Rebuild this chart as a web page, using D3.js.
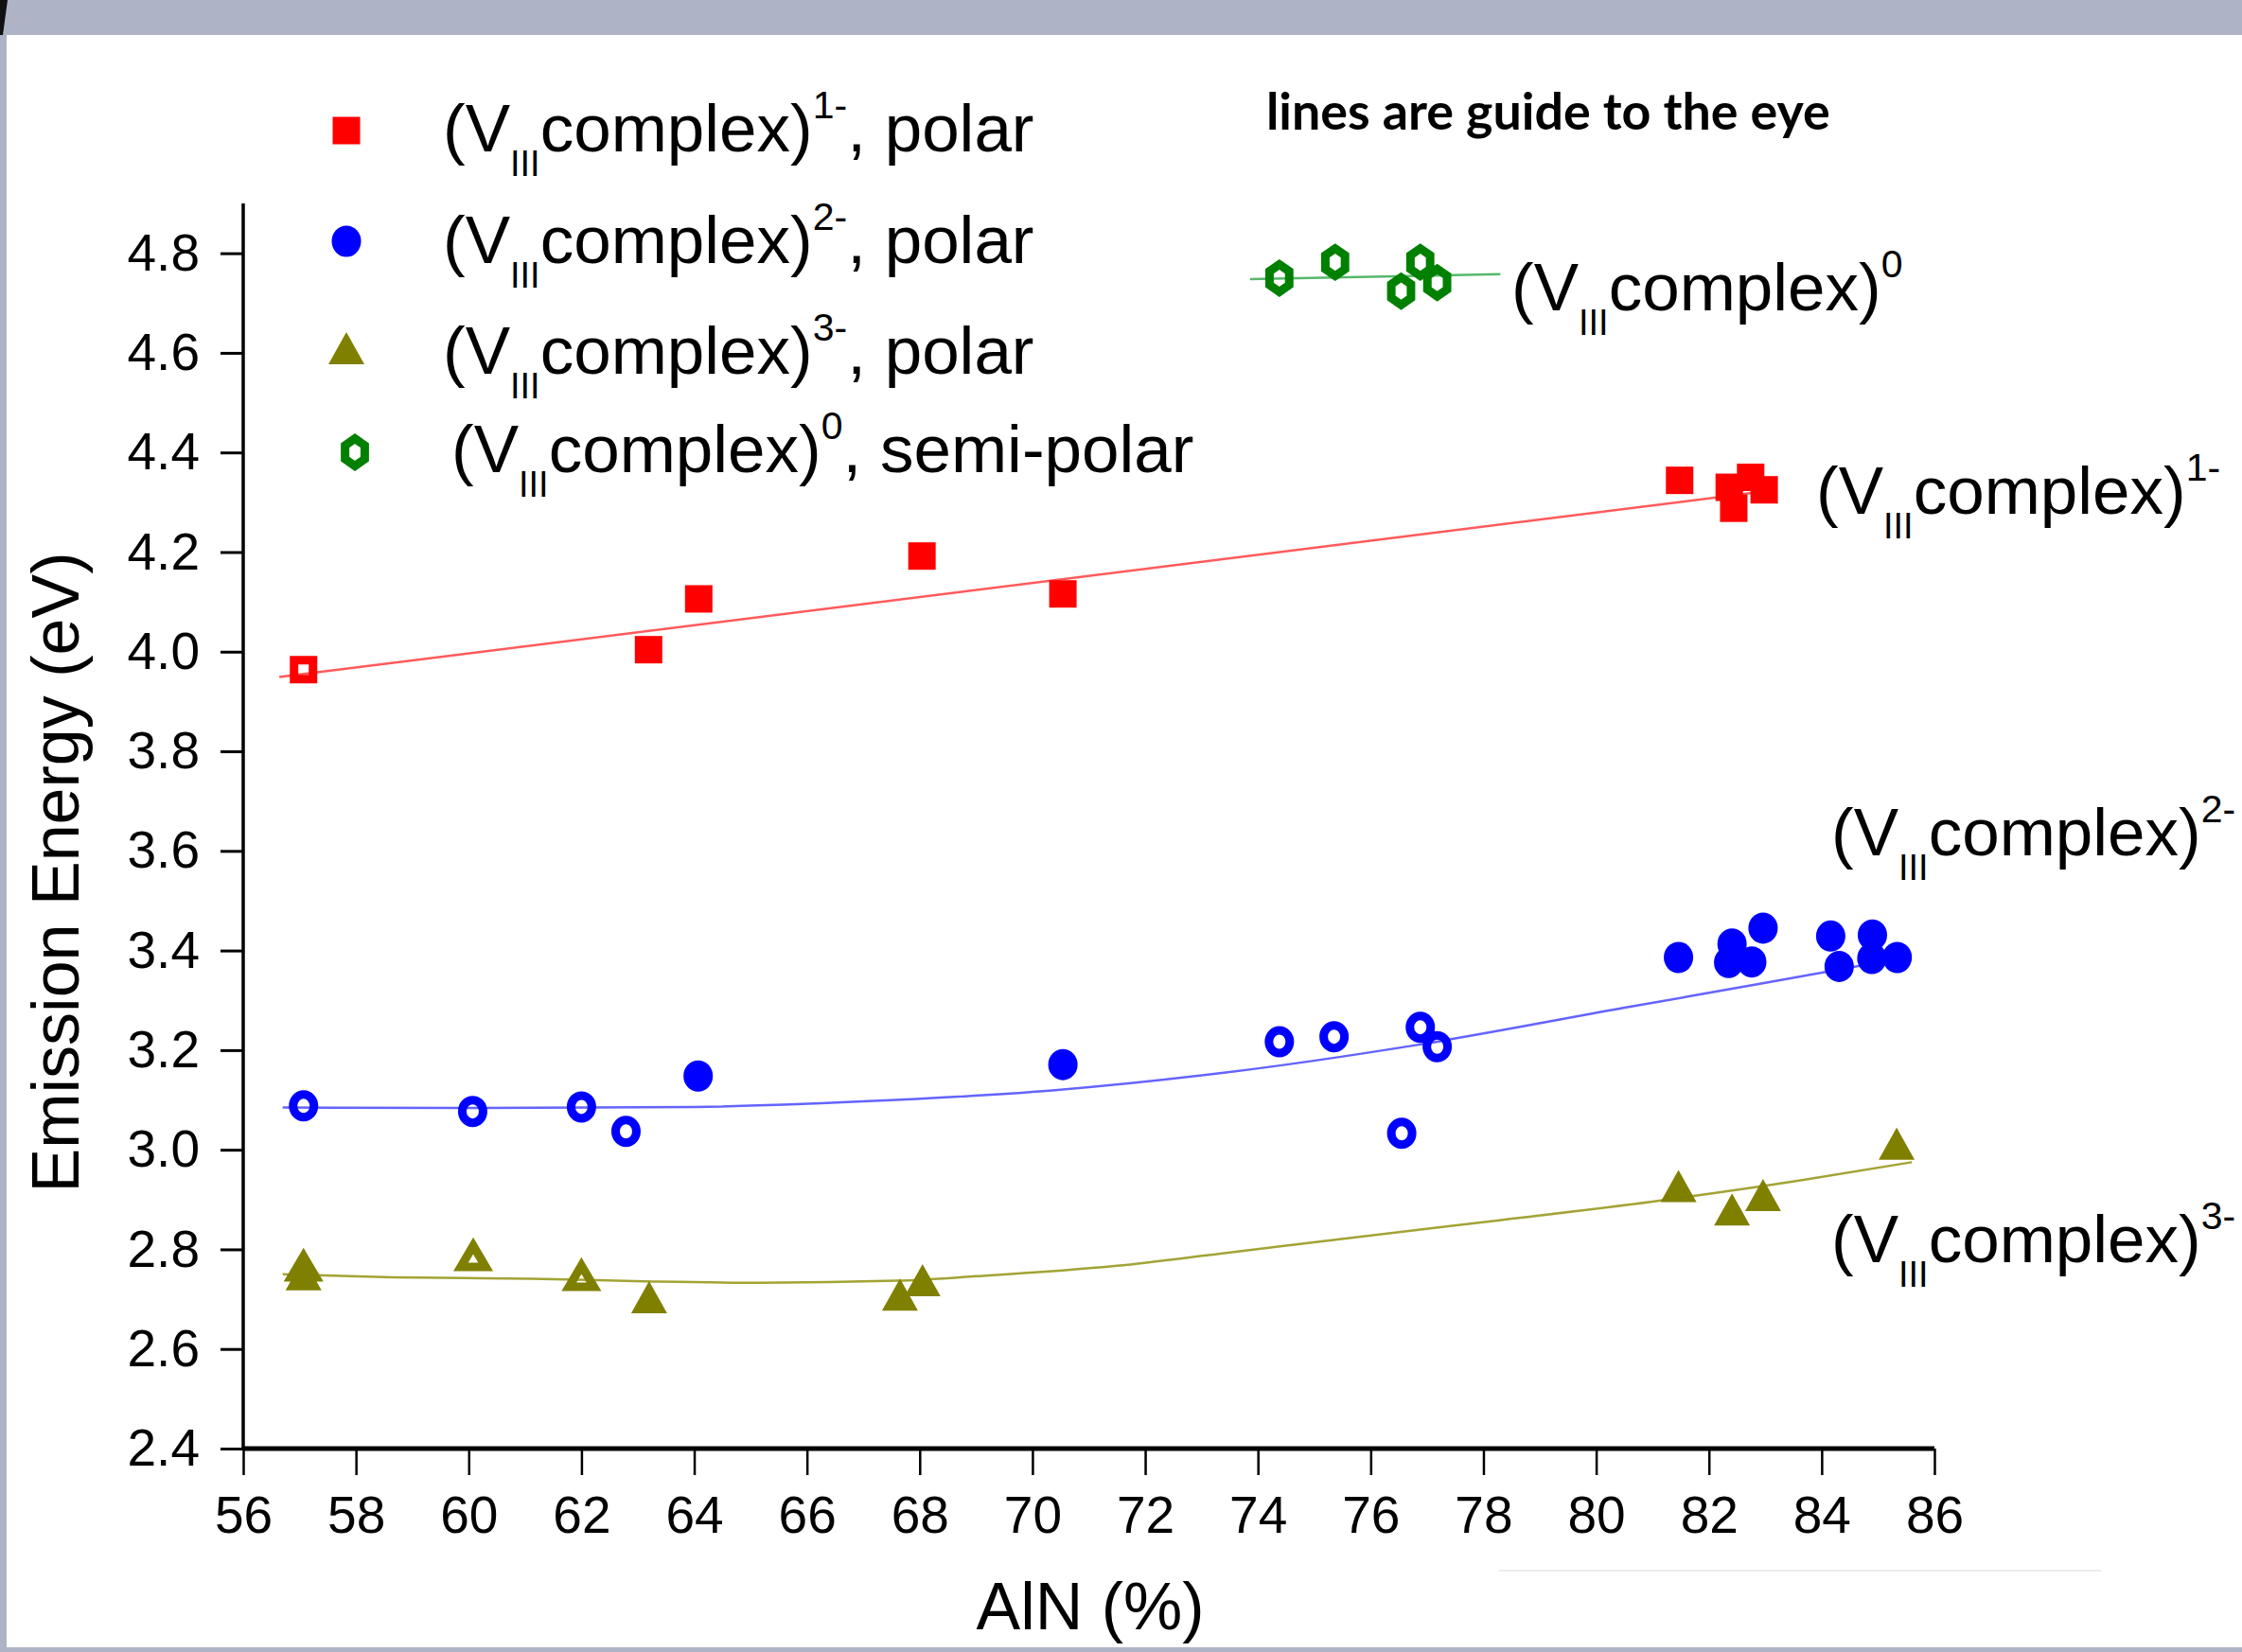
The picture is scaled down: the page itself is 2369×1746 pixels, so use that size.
<!DOCTYPE html>
<html>
<head>
<meta charset="utf-8">
<script src="https://cdn.jsdelivr.net/npm/d3@7"></script>
<style>
  body { margin: 0; background: #aeb3c5; }
  svg { display: block; }
</style>
</head>
<body>
<div id="chart"></div>
<script>
// values: [AlN %, emission energy eV]
const red1Open = [[57.07, 3.964]]
const red1Filled = [[63.19, 4.004], [64.08, 4.106], [68.04, 4.192], [70.54, 4.116],
  [81.48, 4.344], [82.36, 4.33], [82.44, 4.288], [82.74, 4.35], [82.98, 4.325]]
const red1Guide = [[56.64, 3.949], [83.0, 4.322]]

const blue2Open = [[57.07, 3.088], [60.07, 3.077], [62.0, 3.086], [62.79, 3.037],
  [74.38, 3.217], [75.35, 3.227], [76.88, 3.246], [77.18, 3.207], [76.55, 3.033]]
const blue2Filled = [[64.07, 3.148], [70.54, 3.171], [81.46, 3.386], [82.41, 3.413],
  [82.35, 3.376], [82.76, 3.377], [82.96, 3.445], [84.16, 3.429], [84.31, 3.368],
  [84.9, 3.431], [84.89, 3.384], [85.34, 3.386]]
const blue2Guide = [[56.7, 3.085], [60, 3.084], [64, 3.086], [67, 3.097], [70.35, 3.119],
  [73.5, 3.156], [76.8, 3.21], [80.6, 3.287], [83, 3.335], [85.3, 3.382]]

const olive3Open = [[57.07, 2.765], [60.08, 2.786], [62.0, 2.746]]
const olive3Filled = [[57.07, 2.75], [63.2, 2.704], [67.65, 2.709], [68.05, 2.738],
  [81.46, 2.927], [82.41, 2.88], [82.96, 2.909], [85.33, 3.012]]
const olive3Guide = [[56.7, 2.75], [58.65, 2.744], [61.1, 2.741], [63.1, 2.736], [65.2, 2.733],
  [67.6, 2.737], [69, 2.746], [71.5, 2.767], [73.3, 2.791], [75.2, 2.817], [78.1, 2.856],
  [81, 2.896], [83.6, 2.938], [85.6, 2.975]]

const green0Open = [[74.38, 4.75], [75.37, 4.782], [76.54, 4.724], [76.88, 4.782], [77.18, 4.741]]
const green0Guide = [[73.86, 4.748], [78.3, 4.758]]

const xMajorTicks = d3.range(56, 87, 2)
const xMinorTicks = d3.range(57, 86, 2)
const yMajorTicks = [2.4, 2.6, 2.8, 3.0, 3.2, 3.4, 3.6, 3.8, 4.0, 4.2, 4.4, 4.6, 4.8]
const yMinorTicks = [2.5, 2.7, 2.9, 3.1, 3.3, 3.5, 3.7, 3.9, 4.1, 4.3, 4.5, 4.7, 4.9]

const legendItems = [
  { sup: "1-", suffix: ", polar", shape: "square" },
  { sup: "2-", suffix: ", polar", shape: "circle" },
  { sup: "3-", suffix: ", polar", shape: "triangle" },
  { sup: "0", suffix: ", semi-polar", shape: "hexagon" }
]
const curveLabels = ["0", "1-", "2-", "3-"]

const W = 2369, H = 1746
const FONT = "'Liberation Sans', Arial, sans-serif"
const COLORS = { red: "#ff0000", blue: "#0000ff", olive: "#808000", green: "#008000" }
const LINE_COLORS = { red: "#ff5a5a", blue: "#6464ff", olive: "#a3a336", green: "#55b86a" }

const svg = d3.select("#chart").append("svg")
  .attr("width", W).attr("height", H)

// window-like frame
svg.append("rect").attr("width", W).attr("height", H).attr("fill", "#aeb3c5")
svg.append("rect").attr("x", 7).attr("y", 37).attr("width", W - 7).attr("height", 1704).attr("fill", "#fff")
svg.append("path").attr("d", "M0,0L8,0L3,37L0,37Z").attr("fill", "#111")

const x = d3.scaleLinear().domain([56, 86]).range([257, 2044])
const y = d3.scaleLinear().domain([2.4, 4.9]).range([1531, 215])

// axes
const xAxisG = svg.append("g").attr("transform", `translate(0, ${y(2.4)})`)
xAxisG.call(d3.axisBottom(x).tickValues(xMinorTicks).tickSize(15).tickFormat(""))
xAxisG.call(d3.axisBottom(x).tickValues(xMajorTicks).tickSize(28).tickPadding(22).tickFormat(d3.format("d")))
xAxisG.selectAll(".domain").attr("stroke-width", 5).attr("d", `M${x(56)},0H${x(86)}`)
xAxisG.selectAll(".tick line").attr("stroke-width", 2.5)
xAxisG.selectAll("text").attr("font-family", FONT).attr("font-size", 55).attr("fill", "#000")

const yAxisG = svg.append("g").attr("transform", `translate(${x(56)}, 0)`)
yAxisG.call(d3.axisLeft(y).tickValues(yMinorTicks).tickSize(12).tickFormat(""))
yAxisG.call(d3.axisLeft(y).tickValues(yMajorTicks).tickSize(24).tickPadding(22).tickFormat(d3.format(".1f")))
yAxisG.selectAll(".domain").attr("stroke-width", 3.5).attr("d", `M0,${y(2.4)}V${y(4.9)}`)
yAxisG.selectAll(".tick line").attr("stroke-width", 3)
yAxisG.selectAll("text").attr("font-family", FONT).attr("font-size", 55).attr("fill", "#000")

svg.append("text")
  .attr("transform", "translate(83, 922) rotate(-90)")
  .attr("text-anchor", "middle")
  .attr("font-family", FONT).attr("font-size", 70)
  .text("Emission Energy (eV)")

svg.append("text")
  .attr("x", 1152).attr("y", 1722)
  .attr("text-anchor", "middle")
  .attr("font-family", FONT).attr("font-size", 70)
  .text("AlN (%)")

// guide lines
const line = d3.line().x(d => x(d[0])).y(d => y(d[1])).curve(d3.curveMonotoneX)
const guides = [[red1Guide, "red"], [blue2Guide, "blue"], [olive3Guide, "olive"], [green0Guide, "green"]]
guides.forEach(([pts, c]) => {
  svg.append("path").datum(pts)
    .attr("d", line)
    .attr("fill", "none")
    .attr("stroke", LINE_COLORS[c])
    .attr("stroke-width", 2.5)
})

// marker shapes, all centred on the bounding box
function shapePath(shape, inset) {
  const k = inset || 0
  if (shape === "square") {
    const s = 29 - 2 * k
    return `M${-s / 2},${-s / 2}h${s}v${s}h${-s}Z`
  }
  if (shape === "triangle") {
    const w = 38 - 2.6 * k, h = 34 - 2.6 * k
    return `M0,${-h / 2}L${w / 2},${h / 2}L${-w / 2},${h / 2}Z`
  }
  if (shape === "hexagon") {
    const rx = 16.5 - k, ry = 19 - k
    const pts = d3.range(6).map(i => {
      const a = Math.PI / 2 + i * Math.PI / 3
      return [rx * Math.cos(a), -ry * Math.sin(a)]
    })
    return "M" + pts.map(p => p.join(",")).join("L") + "Z"
  }
  // circle (slightly tall ellipse)
  const rx = 15.5 - k, ry = 16.5 - k
  return `M${-rx},0A${rx},${ry} 0 1,0 ${rx},0A${rx},${ry} 0 1,0 ${-rx},0Z`
}

function drawMarkers(data, shape, color, open) {
  svg.append("g").selectAll("path")
    .data(data)
    .enter().append("path")
      .attr("transform", d => `translate(${x(d[0])}, ${y(d[1])})`)
      .attr("d", shapePath(shape, open ? 4.5 : 0))
      .attr("fill", open ? "none" : color)
      .attr("stroke", open ? color : "none")
      .attr("stroke-width", open ? 9 : 0)
}

drawMarkers(red1Open, "square", COLORS.red, true)
drawMarkers(red1Filled, "square", COLORS.red, false)
drawMarkers(blue2Open, "circle", COLORS.blue, true)
drawMarkers(blue2Filled, "circle", COLORS.blue, false)
drawMarkers(olive3Filled, "triangle", COLORS.olive, false)
drawMarkers(olive3Open, "triangle", COLORS.olive, true)
drawMarkers(green0Open, "hexagon", COLORS.green, true)

// (V_III complex)^sup label
function complexLabel(px, py, sup, suffix) {
  const t = svg.append("text")
    .attr("x", px).attr("y", py)
    .attr("font-family", FONT).attr("font-size", 71)
  t.append("tspan").text("(V")
  t.append("tspan").attr("font-size", 38).attr("dy", 26).text("III")
  t.append("tspan").attr("dy", -26).text("complex)")
  t.append("tspan").attr("font-size", 41).attr("dy", -35).text(sup)
  if (suffix) t.append("tspan").attr("dy", 35).text(suffix)
  return t
}

// legend
const legendRows = [160, 278, 395, 499]
const legendSymbolY = [138, 255, 368, 478]
legendItems.forEach((item, i) => {
  const open = item.shape === "hexagon"
  const color = [COLORS.red, COLORS.blue, COLORS.olive, COLORS.green][i]
  svg.append("path")
    .attr("transform", `translate(${i === 3 ? 375 : 366}, ${legendSymbolY[i]})`)
    .attr("d", shapePath(item.shape, open ? 4.5 : 0))
    .attr("fill", open ? "none" : color)
    .attr("stroke", open ? color : "none")
    .attr("stroke-width", open ? 9 : 0)
  complexLabel(i === 3 ? 477 : 468, legendRows[i], item.sup, item.suffix)
})

// labels beside the curves
const curveLabelPos = [[1597, 328], [1919, 543], [1935, 904], [1935, 1334]]
curveLabels.forEach((sup, i) => complexLabel(curveLabelPos[i][0], curveLabelPos[i][1], sup, null))

// note
const note = svg.append("text")
  .attr("x", 1338).attr("y", 137)
  .attr("font-family", "Lato, 'Open Sans', sans-serif")
  .attr("font-weight", "bold")
  .attr("font-size", 50)
  .text("lines are guide to the eye")
const nw = note.node().getComputedTextLength()
note.attr("font-size", 50 * 596 / nw)

// faint stray rule near the bottom
svg.append("line").attr("x1", 1584).attr("x2", 2220).attr("y1", 1660).attr("y2", 1660)
  .attr("stroke", "#ececec").attr("stroke-width", 2)

// bottom strip of the frame
svg.append("rect").attr("x", 0).attr("y", 1741).attr("width", W).attr("height", 5).attr("fill", "#aeb3c5")
</script>
</body>
</html>
